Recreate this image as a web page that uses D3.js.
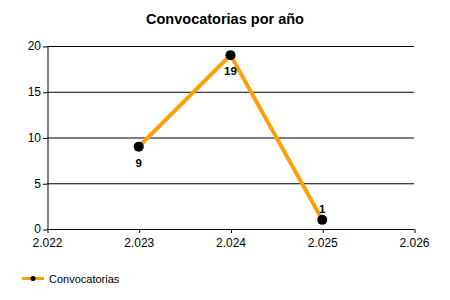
<!DOCTYPE html>
<html>
<head>
<meta charset="utf-8">
<script src="https://cdn.jsdelivr.net/npm/d3@7"></script>
<style>
	body { margin: 0; background: #fff; }
	svg { font-family: 'Liberation Sans', Arial, sans-serif; }
</style>
</head>
<body>
<svg id="chart" width="450" height="300"></svg>
<script>
'use strict';

var years = [2.023, 2.024, 2.025];
var counts = [9, 19, 1];
var xTicks = [2.022, 2.023, 2.024, 2.025, 2.026];
var yTicks = [0, 5, 10, 15, 20];
// label above or below each point
var labelPos = ['below', 'below', 'above'];

var svg = d3.select('#chart');
var margin = {top: 46, right: 36, bottom: 71, left: 47};
var width = +svg.attr('width') - margin.left - margin.right;
var height = +svg.attr('height') - margin.top - margin.bottom;

var x = d3.scaleLinear().domain([2.022, 2.026]).range([0, width]);
var y = d3.scaleLinear().domain([0, 20]).range([height, 0]);

svg.append('text')
	.attr('x', 225)
	.attr('y', 24)
	.attr('text-anchor', 'middle')
	.attr('font-size', 14.5)
	.attr('font-weight', 'bold')
	.text('Convocatorias por año');

var g = svg.append('g').attr('transform', 'translate(' + margin.left + ',' + margin.top + ')');

// horizontal grid
g.append('g')
	.selectAll('line')
	.data(yTicks)
	.enter().append('line')
		.attr('x1', 0).attr('x2', width)
		.attr('y1', function(d) { return y(d) + 0.5; })
		.attr('y2', function(d) { return y(d) + 0.5; })
		.attr('stroke', '#000');

var fmt = function(d) { return d3.format('.3f')(d); };

g.append('g')
	.attr('transform', 'translate(0,' + height + ')')
	.call(d3.axisBottom(x).tickValues(xTicks).tickFormat(fmt).tickSize(4).tickSizeOuter(0))
	.call(function(a) {
		a.select('.domain').remove();
		a.selectAll('.tick line').attr('stroke', '#000').attr('transform', 'translate(0.5,0)');
		a.selectAll('.tick text').attr('font-size', 12).attr('fill', '#000').attr('dy', '0.95em');
	});

g.append('g')
	.call(d3.axisLeft(y).tickValues(yTicks).tickSize(4).tickSizeOuter(0))
	.call(function(a) {
		a.select('.domain').attr('transform', 'translate(0.5,0)').attr('stroke', '#000');
		a.selectAll('.tick line').attr('stroke', '#000').attr('transform', 'translate(0,0.5)');
		a.selectAll('.tick text').attr('font-size', 12).attr('fill', '#000').attr('x', -6);
	});

var line = d3.line()
	.x(function(d, i) { return x(years[i]); })
	.y(function(d) { return y(d); });

g.append('path')
	.datum(counts)
	.attr('fill', 'none')
	.attr('stroke', '#FFA000')
	.attr('stroke-width', 4)
	.attr('stroke-linejoin', 'round')
	.attr('d', line);

g.selectAll('circle.pt')
	.data(counts)
	.enter().append('circle')
		.attr('class', 'pt')
		.attr('cx', function(d, i) { return x(years[i]); })
		.attr('cy', function(d) { return y(d); })
		.attr('r', 5)
		.attr('fill', '#000');

g.selectAll('text.lbl')
	.data(counts)
	.enter().append('text')
		.attr('class', 'lbl')
		.attr('x', function(d, i) { return x(years[i]); })
		.attr('y', function(d, i) { return y(d) + (labelPos[i] === 'below' ? 20 : -7); })
		.attr('text-anchor', 'middle')
		.attr('font-size', 11.5)
		.attr('font-weight', 'bold')
		.text(function(d) { return d; });

// legend
var lg = svg.append('g').attr('transform', 'translate(22,278)');
lg.append('line').attr('x1', 0).attr('x2', 22).attr('y1', 0.5).attr('y2', 0.5)
	.attr('stroke', '#FFA000').attr('stroke-width', 3);
lg.append('circle').attr('cx', 11).attr('cy', 0.5).attr('r', 2.5).attr('fill', '#000');
lg.append('text').attr('x', 27).attr('y', 4.5).attr('font-size', 11).text('Convocatorias');
</script>
</body>
</html>
